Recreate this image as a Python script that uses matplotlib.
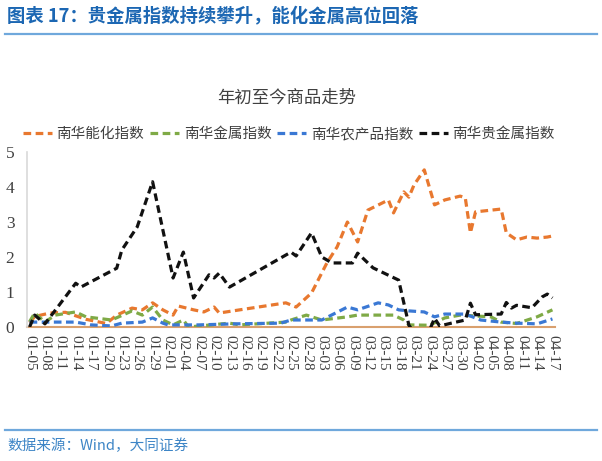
import numpy as np
import pandas as pd
import matplotlib.pyplot as plt
from matplotlib.lines import Line2D

plt.rcParams['font.family'] = ['Noto Sans CJK SC', 'DejaVu Sans']

# x tick labels (every 3 calendar days)
tick_labels = ['01-05', '01-08', '01-11', '01-14', '01-17', '01-20', '01-23',
               '01-26', '01-29', '02-01', '02-04', '02-07', '02-10', '02-13',
               '02-16', '02-19', '02-22', '02-25', '02-28', '03-03', '03-06',
               '03-09', '03-12', '03-15', '03-18', '03-21', '03-24', '03-27',
               '03-30', '04-02', '04-05', '04-08', '04-11', '04-14', '04-17']

# 南华能化指数
energy_dates = ['01-05', '01-06', '01-09', '01-12', '01-16', '01-20', '01-22',
                '01-25', '01-27', '01-29', '01-31', '02-02', '02-03', '02-06',
                '02-08', '02-10', '02-11', '02-15', '02-24', '02-26', '03-01',
                '03-04', '03-06', '03-08', '03-10', '03-12', '03-16', '03-17',
                '03-19', '03-20', '03-21', '03-23', '03-25', '03-27', '03-30',
                '03-31', '04-01', '04-02', '04-07', '04-08', '04-10', '04-12',
                '04-14', '04-16', '04-17']
energy_vals = [0.12, 0.30, 0.40, 0.42, 0.22, 0.10, 0.34,
               0.54, 0.49, 0.69, 0.49, 0.34, 0.60, 0.49,
               0.43, 0.57, 0.40, 0.49, 0.69, 0.57, 0.97,
               1.83, 2.29, 3.00, 2.43, 3.34, 3.63, 3.26,
               3.86, 3.71, 4.06, 4.49, 3.49, 3.63, 3.74,
               3.69, 2.69, 3.29, 3.37, 2.69, 2.49, 2.57,
               2.54, 2.57, 2.60]

# 南华金属指数
metal_dates = ['01-05', '01-06', '01-08', '01-10', '01-14', '01-16', '01-21',
               '01-25', '01-27', '01-29', '01-31', '02-02', '02-04', '02-05',
               '02-13', '02-15', '02-24', '02-25', '02-28', '03-03', '03-08',
               '03-10', '03-17', '03-19', '03-20', '03-24', '03-27', '03-30',
               '04-05', '04-07', '04-10', '04-14', '04-17']
metal_vals = [0.15, 0.40, 0.14, 0.34, 0.43, 0.29, 0.20,
              0.46, 0.34, 0.57, 0.20, 0.06, 0.20, 0.00,
              0.11, 0.06, 0.14, 0.20, 0.34, 0.20, 0.29,
              0.34, 0.34, 0.20, 0.06, 0.05, 0.26, 0.34,
              0.29, 0.14, 0.10, 0.29, 0.49]

# 南华农产品指数
agri_dates = ['01-05', '01-14', '01-17', '01-21', '01-23', '01-27', '01-29',
              '01-31', '02-01', '02-07', '02-14', '02-23', '02-25', '02-27',
              '03-03', '03-08', '03-10', '03-14', '03-16', '03-18', '03-20',
              '03-23', '03-25', '03-27', '03-31', '04-03', '04-07', '04-10',
              '04-14', '04-17']
agri_vals = [0.14, 0.14, 0.06, 0.03, 0.11, 0.14, 0.26,
             0.11, 0.06, 0.06, 0.09, 0.11, 0.20, 0.20,
             0.20, 0.57, 0.49, 0.69, 0.63, 0.49, 0.46,
             0.43, 0.29, 0.37, 0.37, 0.20, 0.14, 0.11,
             0.09, 0.23]

# 南华贵金属指数
precious_dates = ['01-05', '01-06', '01-08', '01-14', '01-15', '01-22', '01-23',
                  '01-26', '01-29', '02-02', '02-04', '02-06', '02-09', '02-10',
                  '02-11', '02-13', '02-25', '02-26', '03-01', '03-03', '03-05',
                  '03-09', '03-10', '03-13', '03-18', '03-20', '03-21', '03-23',
                  '03-24', '03-25', '03-26', '03-28', '03-31', '04-01', '04-02',
                  '04-07', '04-08', '04-09', '04-10', '04-13', '04-15', '04-16',
                  '04-17']
precious_vals = [0.00, 0.34, 0.09, 1.25, 1.14, 1.68, 2.20,
                 2.86, 4.15, 1.40, 2.14, 0.83, 1.49, 1.40,
                 1.54, 1.14, 2.14, 2.03, 2.69, 2.00, 1.83,
                 1.83, 2.11, 1.69, 1.34, 0.05, -0.15, -0.30,
                 -0.10, 0.25, 0.03, 0.10, 0.20, 0.68, 0.35,
                 0.37, 0.70, 0.54, 0.62, 0.55, 0.86, 0.94,
                 0.83]

start = pd.Timestamp('2021-01-05')


def to_day(labels):
    return np.array([(pd.Timestamp('2021-' + s) - start).days for s in labels])


serif = ['Liberation Serif', 'DejaVu Serif']

fig = plt.figure(figsize=(6.02, 4.61), dpi=100)
W, H = 602, 461
ax = fig.add_axes([27 / W, 1 - 327 / H, 528 / W, 175 / H])

series = [
    ('南华能化指数', energy_dates, energy_vals, '#E8782F'),
    ('南华金属指数', metal_dates, metal_vals, '#7FAA46'),
    ('南华农产品指数', agri_dates, agri_vals, '#3A78D4'),
    ('南华贵金属指数', precious_dates, precious_vals, '#111111'),
]
for name, d, v, col in series:
    ax.plot(to_day(d), v, color=col, lw=2.3, dashes=(2.4, 1.4), label=name,
            solid_joinstyle='round', dash_capstyle='butt')

ax.set_xlim(-0.5, 102.5)
ax.set_ylim(0, 5)
for s in ['top', 'right']:
    ax.spines[s].set_visible(False)
ax.spines['left'].set_color('#D9D9D9')
ax.spines['left'].set_linewidth(1.2)
ax.spines['bottom'].set_color('#D9A06E')
ax.spines['bottom'].set_linewidth(1.5)
ax.spines['bottom'].set_zorder(0)

ax.set_yticks(range(6))
ax.set_yticklabels([str(i) for i in range(6)])
ax.set_xticks(to_day(tick_labels))
ax.set_xticklabels(tick_labels, rotation=-90, va='top', ha='center')
ax.tick_params(axis='both', length=0, colors='#404040')
ax.tick_params(axis='y', pad=9, labelsize=12.5)
ax.tick_params(axis='x', pad=6, labelsize=11)
for lbl in ax.get_xticklabels() + ax.get_yticklabels():
    lbl.set_fontfamily(serif)

ax.legend(loc='center', bbox_to_anchor=(289 / W, 1 - 134 / H),
          bbox_transform=fig.transFigure, ncol=4, frameon=False,
          handlelength=2.0, handletextpad=0.3, columnspacing=0.4,
          prop={'family': ['Noto Sans CJK SC'], 'size': 10.5},
          labelcolor='#404040')

fig.text(287 / W, 1 - 98 / H, '年初至今商品走势', ha='center', va='center',
         fontsize=12.5, color='#404040')

# header and footer
fig.text(7 / W, 1 - 16 / H, '图表 17：贵金属指数持续攀升，能化金属高位回落',
         ha='left', va='center', fontsize=13.2, fontweight='bold', color='#1C67B3')
fig.add_artist(Line2D([5 / W, 597 / W], [1 - 34 / H] * 2, color='#6FA8DC', lw=1.6))
fig.add_artist(Line2D([5 / W, 597 / W], [1 - 430 / H] * 2, color='#6FA8DC', lw=1.6))
fig.text(7 / W, 1 - 446 / H, '数据来源：Wind，大同证券', ha='left', va='center',
         fontsize=10.5, color='#3D85C6', style='italic')

fig.savefig('out.png', dpi=100)
